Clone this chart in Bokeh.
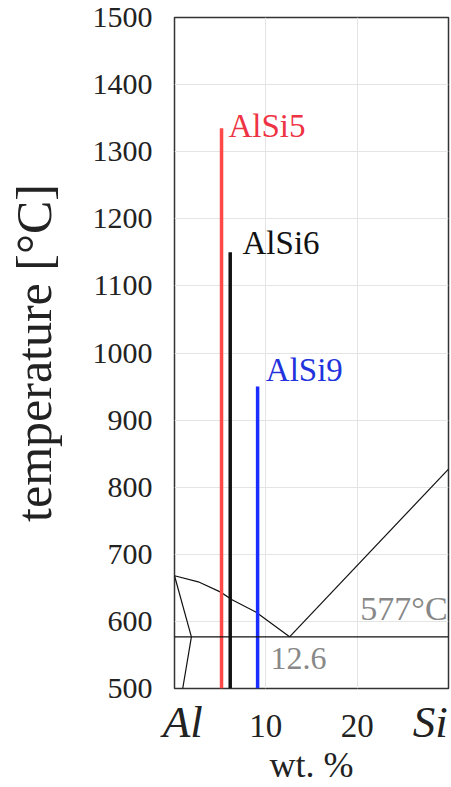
from bokeh.plotting import figure
from bokeh.models import Range1d, FixedTicker, Span, LinearAxis
from bokeh.embed import file_html
from bokeh.resources import INLINE
from bokeh.core.properties import value

# ---- data ----
alloys = ["AlSi5", "AlSi6", "AlSi9"]
alloy_si = [5.15, 6.1, 9.1]          # wt.% Si
alloy_top = [1335, 1150, 950]        # °C
alloy_colors = ["#ff4848", "#111111", "#1a2cff"]
label_colors = ["#ee3344", "#111111", "#2233dd"]
label_x = [5.9, 7.45, 10.0]
label_t = [1339, 1164, 975]

liq_al_x = [0, 2.6, 5.0, 6.35, 8.9, 12.6]
liq_al_t = [668, 659, 644, 632, 614, 577]
liq_si_x = [12.6, 30]
liq_si_t = [577, 827]
solidus_x = [0, 1.85]
solidus_t = [668, 577]
solvus_x = [1.85, 0.9]
solvus_t = [577, 500]
eutectic_t = 577
eutectic_si = 12.6

y_ticks = [500, 600, 700, 800, 900, 1000, 1100, 1200, 1300, 1400, 1500]
x_ticks = [10, 20]
element_x = [0.9, 28]
element_names = ["Al", "Si"]

SERIF = "Liberation Serif"

p = figure(width=451, height=787, output_backend="svg", toolbar_location=None,
           x_range=Range1d(0, 30), y_range=Range1d(500, 1500),
           min_border_left=174, min_border_right=3, min_border_top=17, min_border_bottom=97)
p.background_fill_color = "white"
p.border_fill_color = "white"
p.outline_line_color = "#333333"
p.outline_line_width = 1.5

# grid
p.ygrid.ticker = FixedTicker(ticks=y_ticks)
p.xgrid.ticker = FixedTicker(ticks=x_ticks)
p.grid.grid_line_color = "#e4e4e4"
p.grid.grid_line_width = 1

main_x = p.xaxis[0]
main_y = p.yaxis[0]
main_x.ticker = FixedTicker(ticks=x_ticks)
main_y.ticker = FixedTicker(ticks=y_ticks)

# element names (Al / Si) as an extra axis directly below the frame
elem_axis = LinearAxis(ticker=FixedTicker(ticks=element_x),
                       major_label_overrides={element_x[0]: element_names[0],
                                              element_x[1]: element_names[1]})

for ax in (main_x, main_y, elem_axis):
    ax.axis_line_color = None
    ax.major_tick_line_color = None
    ax.minor_tick_line_color = None
    ax.major_tick_out = 0
    ax.major_tick_in = 0
    ax.major_label_text_font = SERIF
    ax.major_label_text_color = "#222222"
    ax.major_label_text_font_size = "30px"
    ax.axis_label_text_font = SERIF
    ax.axis_label_text_font_style = "normal"
    ax.axis_label_text_color = "#222222"

elem_axis.major_label_text_font_style = "italic"
elem_axis.major_label_text_font_size = "45px"
elem_axis.major_label_standoff = 8

main_y.major_label_standoff = 22
main_y.axis_label = "temperature [°C]"
main_y.axis_label_text_font_size = "50px"
main_y.axis_label_standoff = 28

main_x.major_label_text_font_size = "33px"
main_x.axis_label = "wt. %"
main_x.axis_label_text_font_size = "36px"
main_x.axis_label_standoff = 5
main_x.major_label_standoff = -35

p.below = [elem_axis, main_x]

# phase diagram lines
p.line(liq_al_x, liq_al_t, line_color="#111111", line_width=1.2)
p.line(liq_si_x, liq_si_t, line_color="#111111", line_width=1.2)
p.line(solidus_x, solidus_t, line_color="#111111", line_width=1.2)
p.line(solvus_x, solvus_t, line_color="#111111", line_width=1.2)
p.add_layout(Span(location=eutectic_t, dimension="width", line_color="#111111", line_width=1.2))

# alloy composition lines
p.segment(x0=alloy_si, y0=[500] * 3, x1=alloy_si, y1=alloy_top,
          line_color=alloy_colors, line_width=3.5)
p.text(x=label_x, y=label_t, text=alloys, text_color=label_colors,
       text_font=value(SERIF), text_font_size="33px", text_baseline="middle", text_align="left")

# annotations
p.text(x=[29.9], y=[619], text=[f"{eutectic_t}°C"], text_color="#888888",
       text_font=value(SERIF), text_font_size="34px", text_baseline="middle", text_align="right")
p.text(x=[10.5], y=[545], text=[f"{eutectic_si}"], text_color="#888888",
       text_font=value(SERIF), text_font_size="32px", text_baseline="middle", text_align="left")

open("out.html", "w").write(file_html(p, INLINE))
